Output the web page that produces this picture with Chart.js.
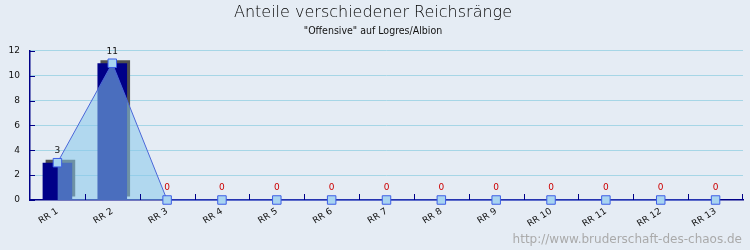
<!DOCTYPE html>
<html>
<head>
<meta charset="utf-8">
<script src="https://cdn.jsdelivr.net/npm/chart.js@4"></script>
<style>
  html, body { margin: 0; padding: 0; background: #e5ecf4; }
  #wrap { width: 750px; height: 250px; }
</style>
</head>
<body>
<div id="wrap"><canvas id="rangChart"></canvas></div>
<script>
var labels = ["RR 1", "RR 2", "RR 3", "RR 4", "RR 5", "RR 6", "RR 7", "RR 8", "RR 9", "RR 10", "RR 11", "RR 12", "RR 13"];
var anteile = [3, 11, 0, 0, 0, 0, 0, 0, 0, 0, 0, 0, 0];
var yTicks = [0, 2, 4, 6, 8, 10, 12];

var navy = '#000088';

// shadow behind the bars
var barShadow = {
    id: 'barShadow',
    beforeDatasetDraw: function (chart, args) {
        if (args.index !== 1) return;
        var ctx = chart.ctx;
        ctx.save();
        ctx.shadowColor = 'rgba(80,80,80,1)';
        ctx.shadowOffsetX = 3;
        ctx.shadowOffsetY = -3;
        ctx.shadowBlur = 0;
    },
    afterDatasetDraw: function (chart, args) {
        if (args.index !== 1) return;
        chart.ctx.restore();
    }
};

// inner tick marks, value labels, watermark
var extras = {
    id: 'extras',
    afterDraw: function (chart) {
        var ctx = chart.ctx;
        var x = chart.scales.x, y = chart.scales.y;
        var area = chart.chartArea;
        ctx.save();
        ctx.strokeStyle = navy;
        ctx.lineWidth = 1;
        ctx.beginPath();
        yTicks.forEach(function (v) {
            var py = Math.round(y.getPixelForValue(v)) + 0.5;
            ctx.moveTo(area.left, py);
            ctx.lineTo(area.left + 5, py);
        });
        for (var i = 0; i < labels.length; i++) {
            var px = i < labels.length - 1
                ? (x.getPixelForValue(i) + x.getPixelForValue(i + 1)) / 2
                : area.right - 1;
            px = Math.round(px) + 0.5;
            ctx.moveTo(px, area.bottom);
            ctx.lineTo(px, area.bottom - 6);
        }
        ctx.stroke();

        var meta = chart.getDatasetMeta(0);
        ctx.font = '9px "DejaVu Sans"';
        ctx.textAlign = 'center';
        ctx.textBaseline = 'middle';
        meta.data.forEach(function (pt, i) {
            ctx.fillStyle = anteile[i] === 0 ? '#cc0000' : '#111111';
            ctx.fillText(String(anteile[i]), pt.x, pt.y - 12);
        });

        ctx.font = '12px "DejaVu Sans"';
        ctx.fillStyle = '#aaaaaa';
        ctx.textAlign = 'right';
        ctx.textBaseline = 'alphabetic';
        ctx.fillText('http://www.bruderschaft-des-chaos.de', 742, 243);
        ctx.restore();
    }
};

new Chart(document.getElementById('rangChart'), {
    type: 'bar',
    data: {
        labels: labels,
        datasets: [
            {
                type: 'line',
                data: anteile,
                order: 0,
                clip: false,
                borderColor: '#4a66d8',
                borderWidth: 1,
                backgroundColor: 'rgba(135,200,235,0.55)',
                fill: 'origin',
                tension: 0,
                pointStyle: 'rect',
                pointRadius: 6,
                pointBackgroundColor: '#a8d4f0',
                pointBorderColor: '#3d5ee6',
                pointBorderWidth: 1
            },
            {
                type: 'bar',
                data: anteile,
                order: 1,
                backgroundColor: navy,
                borderWidth: 0,
                barPercentage: 0.54,
                categoryPercentage: 1
            }
        ]
    },
    options: {
        responsive: true,
        maintainAspectRatio: false,
        animation: false,
        layout: { padding: { top: 0, right: 4, left: 0, bottom: 0 } },
        plugins: {
            legend: { display: false },
            tooltip: { enabled: false },
            title: {
                display: true,
                text: 'Anteile verschiedener Reichsränge',
                color: '#000000',
                font: { family: 'DejaVu Sans', size: 16, weight: 200 },
                padding: { top: 3, bottom: 3 }
            },
            subtitle: {
                display: true,
                text: '"Offensive" auf Logres/Albion',
                color: '#111111',
                font: { family: 'DejaVu Sans Condensed', size: 10.5 },
                padding: { top: 0, bottom: 13 }
            }
        },
        scales: {
            x: {
                grid: { display: false, drawTicks: false },
                border: { color: navy, width: 1.5 },
                ticks: {
                    color: '#111111',
                    font: { family: 'DejaVu Sans', size: 9 },
                    minRotation: 32,
                    maxRotation: 32,
                    autoSkip: false,
                    padding: 6
                },
                afterFit: function (s) { s.height = 50; }
            },
            y: {
                min: 0,
                max: 12,
                afterBuildTicks: function (s) {
                    s.ticks = yTicks.map(function (v) { return { value: v }; });
                },
                grid: {
                    color: function (c) { return c.tick && c.tick.value === 0 ? 'rgba(0,0,0,0)' : '#a6d6e6'; },
                    drawTicks: false
                },
                border: { color: navy, width: 1.5 },
                ticks: {
                    color: '#111111',
                    font: { family: 'DejaVu Sans', size: 9 },
                    padding: 10
                },
                afterFit: function (s) { s.width = 30; }
            }
        }
    },
    plugins: [barShadow, extras]
});
</script>
</body>
</html>
